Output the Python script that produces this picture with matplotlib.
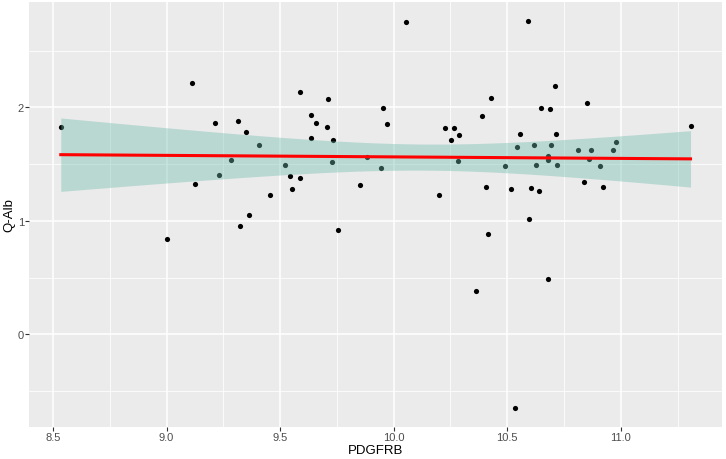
import numpy as np
import matplotlib
matplotlib.use("Agg")
import matplotlib.pyplot as plt

plt.rcParams['font.family'] = ['Liberation Sans', 'DejaVu Sans']

pdgfrb = [8.534, 9.000, 9.113, 9.123, 9.211, 9.230, 9.284, 9.315, 9.321, 9.348, 9.362, 9.406,
          9.455, 9.522, 9.543, 9.550, 9.587, 9.587, 9.635, 9.635, 9.659, 9.707, 9.710, 9.729,
          9.733, 9.755, 9.852, 9.883, 9.945, 9.954, 9.970, 10.053, 10.201, 10.226, 10.254,
          10.264, 10.281, 10.286, 10.364, 10.390, 10.408, 10.417, 10.428, 10.492, 10.518,
          10.533, 10.541, 10.558, 10.590, 10.596, 10.603, 10.618, 10.625, 10.639, 10.650,
          10.679, 10.679, 10.681, 10.687, 10.694, 10.712, 10.714, 10.719, 10.813, 10.837,
          10.852, 10.858, 10.870, 10.910, 10.923, 10.967, 10.977, 11.307]
q_alb = [1.830, 0.844, 2.214, 1.325, 1.862, 1.407, 1.539, 1.882, 0.953, 1.783, 1.050, 1.668,
         1.226, 1.495, 1.398, 1.279, 2.135, 1.375, 1.935, 1.730, 1.862, 1.830, 2.070, 1.516,
         1.710, 0.915, 1.314, 1.560, 1.469, 1.991, 1.850, 2.753, 1.226, 1.818, 1.712,
         1.818, 1.530, 1.756, 0.382, 1.926, 1.299, 0.883, 2.079, 1.481, 1.279,
         -0.647, 1.651, 1.762, 2.759, 1.018, 1.290, 1.671, 1.495, 1.264, 1.991,
         1.569, 1.537, 0.490, 1.985, 1.666, 2.190, 1.762, 1.495, 1.627, 1.346,
         2.041, 1.543, 1.627, 1.484, 1.299, 1.624, 1.697, 1.833]

x_ticks = [8.5, 9.0, 9.5, 10.0, 10.5, 11.0]
y_ticks = [0, 1, 2]
x_label = "PDGFRB"
y_label = "Q-Alb"

x = np.array(pdgfrb)
y = np.array(q_alb)
n = len(x)
b1, b0 = np.polyfit(x, y, 1)
xs = np.linspace(x.min(), x.max(), 200)
yhat = b0 + b1 * xs
resid = y - (b0 + b1 * x)
s = np.sqrt(np.sum(resid**2) / (n - 2))
tq = 1.993
se = s * np.sqrt(1 / n + (xs - x.mean())**2 / np.sum((x - x.mean())**2))

fig = plt.figure(figsize=(7.26, 4.6), dpi=100)
ax = fig.add_axes([29.3/726, 1 - 428/460, (722 - 29.3)/726, (428 - 3)/460])
ax.set_facecolor("#ebebeb")
xr = x.max() - x.min()
yr = y.max() - y.min()
ax.set_xlim(x.min() - 0.05*xr, x.max() + 0.05*xr)
ax.set_ylim(y.min() - 0.05*yr, y.max() + 0.05*yr)

for v in [8.75, 9.25, 9.75, 10.25, 10.75, 11.25]:
    ax.axvline(v, color="white", lw=0.55, zorder=0)
for v in [-0.5, 0.5, 1.5, 2.5]:
    ax.axhline(v, color="white", lw=0.55, zorder=0)
for v in x_ticks:
    ax.axvline(v, color="white", lw=1.1, zorder=0)
for v in y_ticks:
    ax.axhline(v, color="white", lw=1.1, zorder=0)

ax.scatter(x, y, s=14, color="black", zorder=2, linewidths=0)
ax.fill_between(xs, yhat - tq*se, yhat + tq*se, color=(112/255, 188/255, 173/255), alpha=0.4,
                linewidth=0, zorder=3)
ax.plot(xs, yhat, color="red", lw=2.2, zorder=4)

ax.set_xticks(x_ticks)
ax.set_xticklabels([f"{v:.1f}" for v in x_ticks])
ax.set_yticks(y_ticks)
ax.set_yticklabels([str(v) for v in y_ticks])
ax.tick_params(axis="both", colors="#333333", labelcolor="#4d4d4d", labelsize=8,
               length=2.7, width=0.8, pad=1)
for sp in ax.spines.values():
    sp.set_visible(False)
ax.set_xlabel(x_label, fontsize=9.5, color="black", labelpad=1)
ax.set_ylabel(y_label, fontsize=9.5, color="black", labelpad=2)

fig.savefig("out.png", dpi=100)
